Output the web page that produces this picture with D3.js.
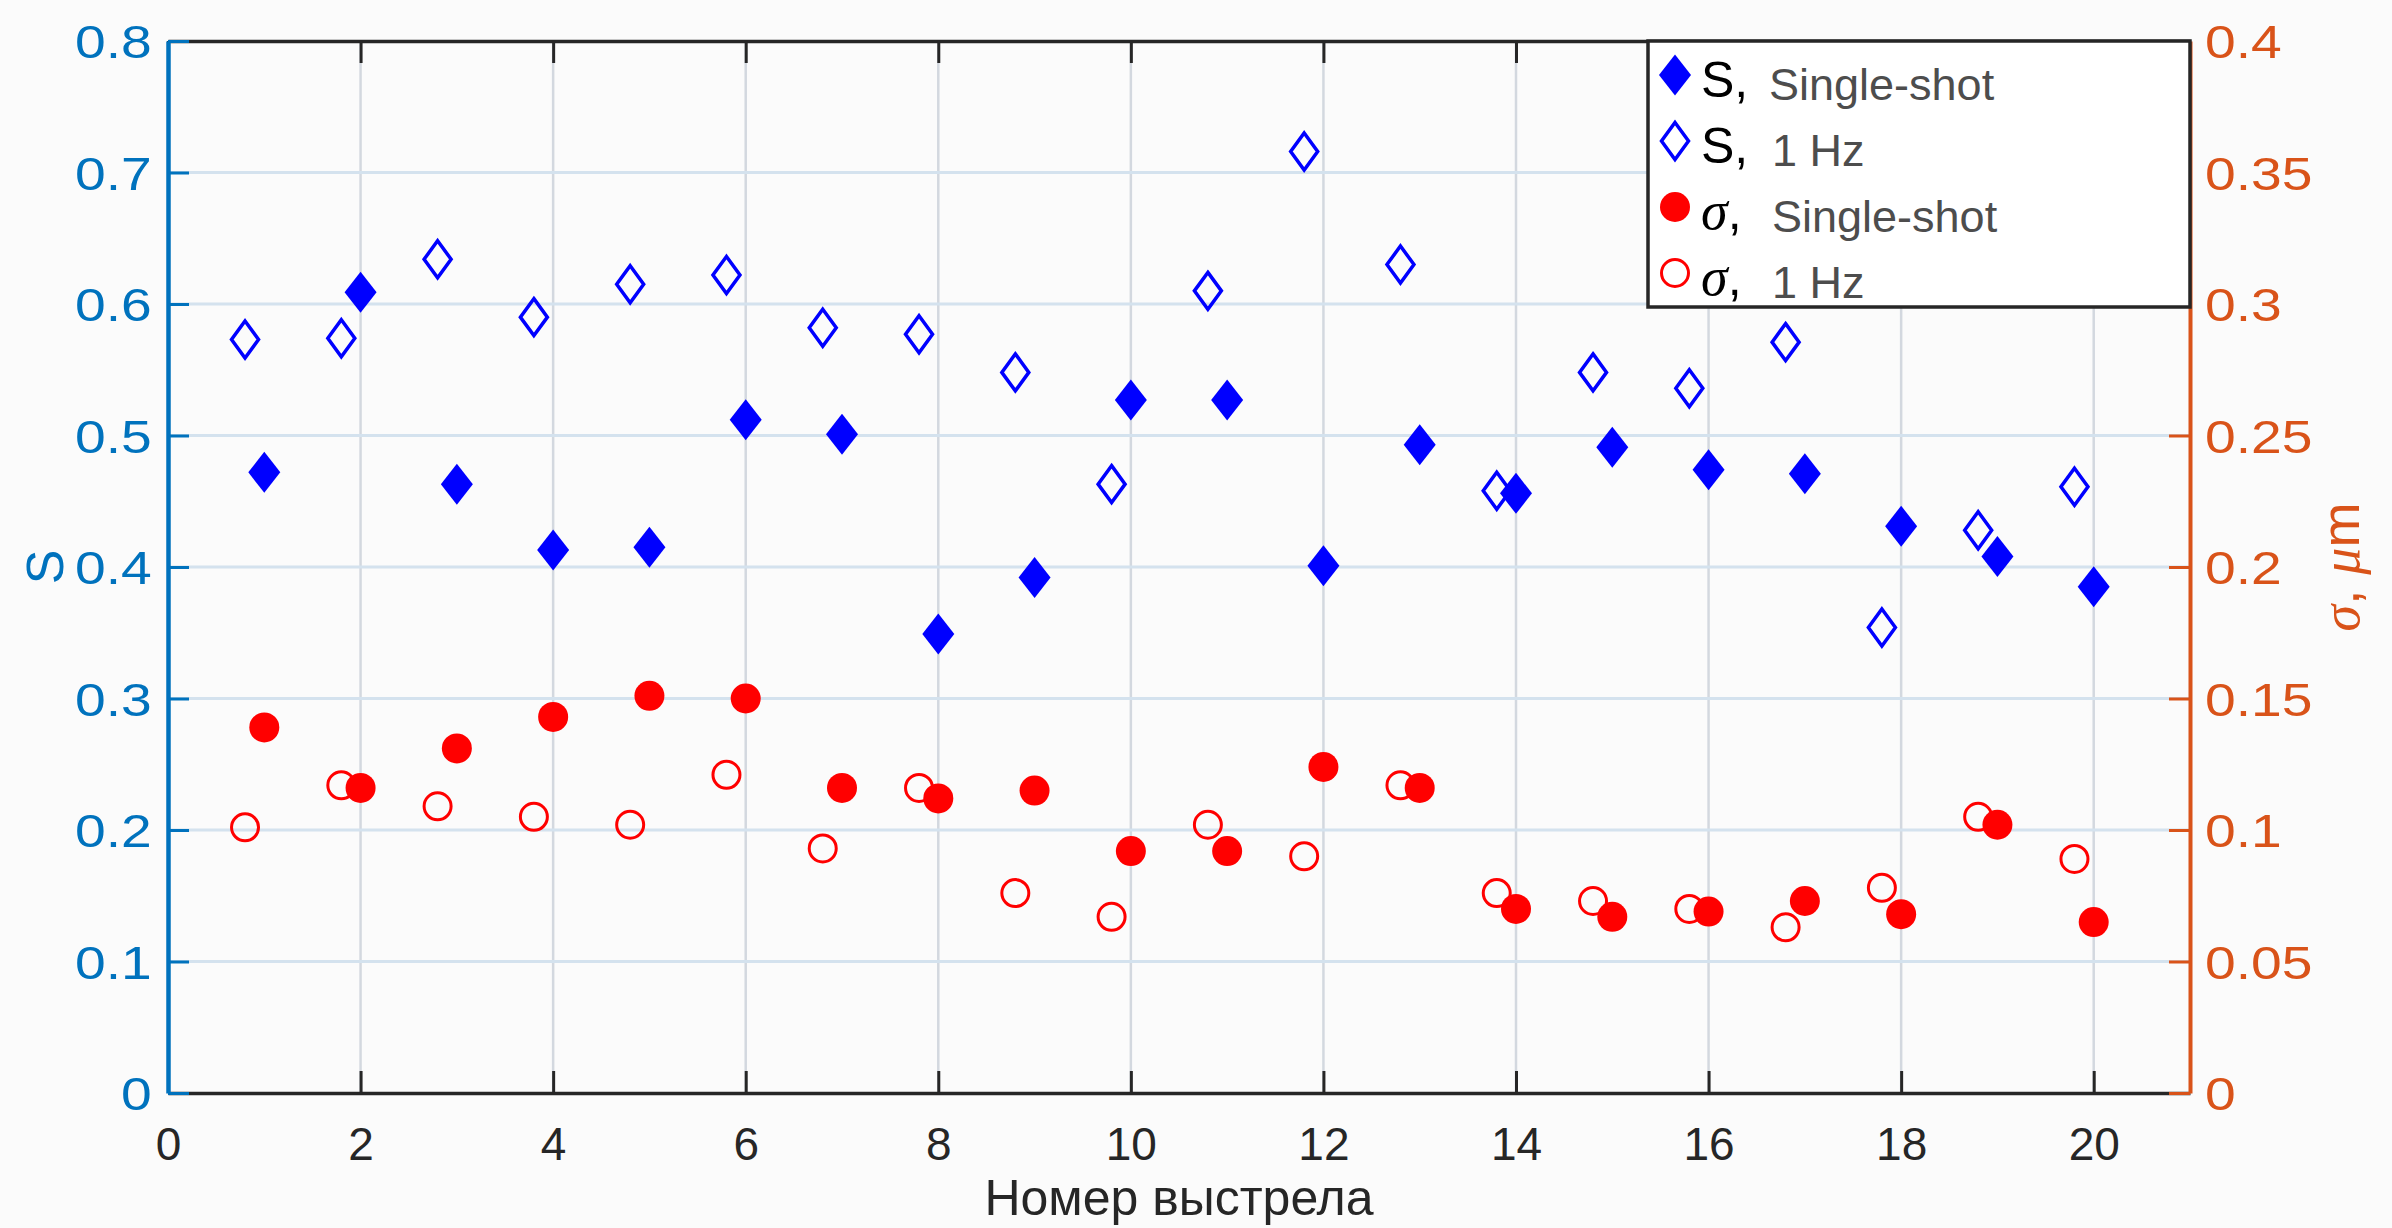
<!DOCTYPE html>
<html>
<head>
<meta charset="utf-8">
<script src="https://cdn.jsdelivr.net/npm/d3@7"></script>
<style>
  body { margin: 0; background: #fbfbfb; }
  svg { display: block; }
  text { font-family: "Liberation Sans", Arial, Helvetica, sans-serif; }
</style>
</head>
<body>
<div class="chart"></div>
<script>
var svgWidth = 2392;
var svgHeight = 1228;

var margin = { top: 41, right: 202, bottom: 135, left: 168 };
var width = svgWidth - margin.left - margin.right;
var height = svgHeight - margin.top - margin.bottom;

// data
var shots = [1, 2, 3, 4, 5, 6, 7, 8, 9, 10, 11, 12, 13, 14, 15, 16, 17, 18, 19, 20];
var shotsHz = [0.8, 1.8, 2.8, 3.8, 4.8, 5.8, 6.8, 7.8, 8.8, 9.8, 10.8, 11.8, 12.8, 13.8, 14.8, 15.8, 16.8, 17.8, 18.8, 19.8];
var sSingle = [0.472, 0.609, 0.463, 0.413, 0.415, 0.512, 0.501, 0.349, 0.392, 0.527, 0.527, 0.401, 0.493, 0.456, 0.491, 0.474, 0.471, 0.431, 0.408, 0.385];
var sHz = [0.573, 0.574, 0.634, 0.590, 0.615, 0.622, 0.582, 0.577, 0.548, 0.463, 0.610, 0.716, 0.630, 0.458, 0.548, 0.536, 0.571, 0.354, 0.428, 0.461];
var sigmaSingle = [0.139, 0.116, 0.131, 0.143, 0.151, 0.150, 0.116, 0.112, 0.115, 0.092, 0.092, 0.124, 0.116, 0.070, 0.067, 0.069, 0.073, 0.068, 0.102, 0.065];
var sigmaHz = [0.101, 0.117, 0.109, 0.105, 0.102, 0.121, 0.093, 0.116, 0.076, 0.067, 0.102, 0.090, 0.117, 0.076, 0.073, 0.070, 0.063, 0.078, 0.105, 0.089];

var xTicks = [0, 2, 4, 6, 8, 10, 12, 14, 16, 18, 20];
var leftTicks = [0, 0.1, 0.2, 0.3, 0.4, 0.5, 0.6, 0.7, 0.8];
var rightTicks = [0, 0.05, 0.1, 0.15, 0.2, 0.25, 0.3, 0.35, 0.4];
var legendNames = ["Single-shot", "1 Hz", "Single-shot", "1 Hz"];

var blue = "#0000ff", red = "#ff0000";
var axisBlue = "#0072bd", axisOrange = "#d95319", ink = "#262626";

var svg = d3.select(".chart")
  .append("svg")
  .attr("width", svgWidth)
  .attr("height", svgHeight);

var chartGroup = svg.append("g")
  .attr("transform", `translate(${margin.left}, ${margin.top})`);

var xScale = d3.scaleLinear().domain([0, 21]).range([0, width]);
var yLeft = d3.scaleLinear().domain([0, 0.8]).range([height, 0]);
var yRight = d3.scaleLinear().domain([0, 0.4]).range([height, 0]);

// grid
chartGroup.append("g")
  .selectAll("line")
  .data(xTicks.slice(1))
  .join("line")
    .attr("x1", d => xScale(d)).attr("x2", d => xScale(d))
    .attr("y1", 0).attr("y2", height)
    .style("stroke", "#d3d8df")
    .style("stroke-width", 2.5);

chartGroup.append("g")
  .selectAll("line")
  .data(leftTicks.slice(1, -1))
  .join("line")
    .attr("x1", 0).attr("x2", width)
    .attr("y1", d => yLeft(d)).attr("y2", d => yLeft(d))
    .style("stroke", "#d4e2ee")
    .style("stroke-width", 3);

// axes
var bottomAxis = d3.axisBottom(xScale).tickValues(xTicks)
  .tickSizeInner(-22).tickSizeOuter(0).tickPadding(34);
var topAxis = d3.axisTop(xScale).tickValues(xTicks)
  .tickSizeInner(-22).tickSizeOuter(0).tickFormat("");
// the y tick labels are drawn a bit wider, so padding is divided by the stretch
var leftAxis = d3.axisLeft(yLeft).tickValues(leftTicks)
  .tickSizeInner(-21).tickSizeOuter(0).tickPadding(13.5).tickFormat(d3.format("~g"));
var rightAxis = d3.axisRight(yRight).tickValues(rightTicks)
  .tickSizeInner(-21).tickSizeOuter(0).tickPadding(12.5).tickFormat(d3.format("~g"));

function styleAxis(g, color, w) {
  g.select(".domain").style("stroke", color).style("stroke-width", w);
  g.selectAll(".tick line").style("stroke", color).style("stroke-width", 3);
  g.selectAll(".tick text")
    .style("fill", color)
    .style("font-size", "46px")
    .style("font-family", '"Liberation Sans", Arial, sans-serif');
}

chartGroup.append("g")
  .attr("transform", `translate(0, ${height})`)
  .call(bottomAxis)
  .call(g => styleAxis(g, ink, 3.5));

chartGroup.append("g")
  .call(topAxis)
  .call(g => styleAxis(g, ink, 3.5));

chartGroup.append("g")
  .call(leftAxis)
  .call(g => styleAxis(g, axisBlue, 4.5))
  .call(g => g.selectAll(".tick text").attr("dy", "0.36em").attr("transform", "scale(1.2,1)"));

chartGroup.append("g")
  .attr("transform", `translate(${width}, 0)`)
  .call(rightAxis)
  .call(g => styleAxis(g, axisOrange, 4))
  .call(g => g.selectAll(".tick text").attr("dy", "0.36em").attr("transform", "scale(1.2,1)"));

// axis titles
chartGroup.append("text")
  .attr("x", width / 2)
  .attr("y", height + 122)
  .attr("text-anchor", "middle")
  .style("font-size", "50px")
  .style("fill", ink)
  .text("Номер выстрела");

chartGroup.append("text")
  .attr("transform", `translate(${44 - margin.left}, ${height / 2}) rotate(-90)`)
  .attr("text-anchor", "middle")
  .attr("dy", "0.36em")
  .style("font-size", "52px")
  .style("fill", axisBlue)
  .text("S");

var rLabel = chartGroup.append("text")
  .attr("transform", `translate(${width + 150}, ${height / 2}) rotate(-90)`)
  .attr("text-anchor", "middle")
  .attr("dy", "0.36em")
  .style("font-size", "54px")
  .style("fill", axisOrange);
rLabel.append("tspan").style("font-family", '"Liberation Serif", "Times New Roman", serif').style("font-style", "italic").text("σ");
rLabel.append("tspan").text(", ");
rLabel.append("tspan").style("font-family", '"Liberation Serif", "Times New Roman", serif').style("font-style", "italic").text("μ");
rLabel.append("tspan").text("m");

// markers
var diamond = (w, h) => `M0,${-h}L${w},0L0,${h}L${-w},0Z`;

chartGroup.append("g")
  .selectAll("path")
  .data(shotsHz.map((x, i) => ({ x: x, v: sHz[i] })))
  .join("path")
    .attr("transform", d => `translate(${xScale(d.x)},${yLeft(d.v)})`)
    .attr("d", diamond(13.5, 18.5))
    .style("fill", "none")
    .style("stroke", blue)
    .style("stroke-width", 3.5);

chartGroup.append("g")
  .selectAll("path")
  .data(shots.map((x, i) => ({ x: x, v: sSingle[i] })))
  .join("path")
    .attr("transform", d => `translate(${xScale(d.x)},${yLeft(d.v)})`)
    .attr("d", diamond(16, 20.5))
    .style("fill", blue);

chartGroup.append("g")
  .selectAll("circle")
  .data(shotsHz.map((x, i) => ({ x: x, v: sigmaHz[i] })))
  .join("circle")
    .attr("cx", d => xScale(d.x))
    .attr("cy", d => yRight(d.v))
    .attr("r", 13.5)
    .style("fill", "none")
    .style("stroke", red)
    .style("stroke-width", 3);

chartGroup.append("g")
  .selectAll("circle")
  .data(shots.map((x, i) => ({ x: x, v: sigmaSingle[i] })))
  .join("circle")
    .attr("cx", d => xScale(d.x))
    .attr("cy", d => yRight(d.v))
    .attr("r", 15)
    .style("fill", red);

// legend
var legend = svg.append("g").attr("transform", "translate(1648, 41)");
legend.append("rect")
  .attr("width", 542).attr("height", 266)
  .style("fill", "#ffffff")
  .style("stroke", ink)
  .style("stroke-width", 3.5);

var rows = legendNames.map((name, i) => ({ name: name, i: i }));
var row = legend.selectAll("g.row")
  .data(rows)
  .join("g")
    .attr("class", "row")
    .attr("transform", d => `translate(0, ${34 + d.i * 66})`);

row.each(function(d) {
  var g = d3.select(this);
  if (d.i === 0) g.append("path").attr("transform", "translate(27,0)").attr("d", diamond(16, 20.5)).style("fill", blue);
  if (d.i === 1) g.append("path").attr("transform", "translate(27,0)").attr("d", diamond(13.5, 18.5)).style("fill", "none").style("stroke", blue).style("stroke-width", 3.5);
  if (d.i === 2) g.append("circle").attr("cx", 27).attr("r", 15).style("fill", red);
  if (d.i === 3) g.append("circle").attr("cx", 27).attr("r", 13.5).style("fill", "none").style("stroke", red).style("stroke-width", 3);

  var sym = g.append("text").attr("x", 53).attr("y", 22).style("font-size", "50px").style("fill", "#000");
  if (d.i < 2) sym.text("S,");
  else {
    sym.append("tspan").style("font-family", '"Liberation Serif", "Times New Roman", serif').style("font-style", "italic").style("font-size", "54px").text("σ");
    sym.append("tspan").text(",");
  }
  g.append("text")
    .attr("x", d.i === 0 ? 121 : 124)
    .attr("y", 25)
    .style("font-size", "45px")
    .style("fill", "#4d4d4d")
    .text(d.name);
});
</script>
</body>
</html>
